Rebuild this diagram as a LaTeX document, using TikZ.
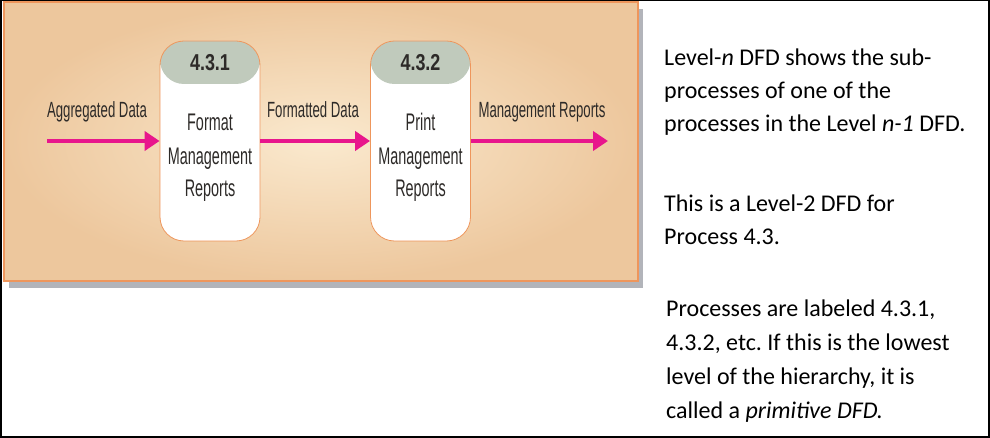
\documentclass[tikz,border=0pt]{standalone}
\usepackage{fontspec}
\usetikzlibrary{arrows.meta}
\newfontfamily\cond[FakeStretch=0.6]{Liberation Sans}
\newfontfamily\condhdr[FakeStretch=0.78]{Liberation Sans}
\newfontfamily\cbr{Carlito}
\frenchspacing
\definecolor{panelin}{RGB}{250,233,206}
\definecolor{panelout}{RGB}{237,199,157}
\definecolor{panelrim}{RGB}{238,150,92}
\definecolor{shadowgray}{RGB}{178,180,186}
\definecolor{hdr}{RGB}{192,202,188}
\definecolor{flowpink}{RGB}{232,22,140}
\definecolor{labelgray}{RGB}{45,42,40}
\tikzset{
  procbox/.style={draw=panelrim, line width=0.8pt, fill=white, rounded corners=24pt,
    minimum width=100pt, minimum height=200pt, inner sep=0pt,
    path picture={\fill[hdr] (path picture bounding box.north west) rectangle ([yshift=-43pt]path picture bounding box.north east);}},
  hdrtext/.style={font=\condhdr\bfseries\fontsize{23}{26}\selectfont, text=labelgray, anchor=base, inner sep=0pt},
  boxtext/.style={font=\cond\fontsize{24}{26}\selectfont, text=labelgray, anchor=base, inner sep=0pt},
  flowlabel/.style={font=\cond\fontsize{22}{26}\selectfont, text=labelgray, anchor=base, inner sep=0pt},
  flow/.style={draw=flowpink, line width=4pt, -{Triangle[length=15pt,width=19pt]}},
  note/.style={font=\cbr\fontsize{24}{30}\selectfont, text=black, anchor=base west, inner sep=0pt}
}
\begin{document}
\begin{tikzpicture}[x=1pt,y=-1pt]
\useasboundingbox (0,0) rectangle (990,438);
\fill[white] (0,0) rectangle (990,438);
% shadow and panel
\fill[shadowgray] (9,9) rectangle (643,288);
\shade[inner color=panelin, outer color=panelout] (4,2) rectangle (638,281);
\draw[panelrim, line width=1.5pt] (4,2) rectangle (638,281);
% processes
\node[procbox] (p1) at (210,141) {};
\node[procbox] (p2) at (420.5,141) {};
\node[hdrtext] (h1) at (210,71) {4.3.1};
\node[hdrtext] (h2) at (420.5,71) {4.3.2};
\node[boxtext] (f1) at (210,131) {Format};
\node[boxtext] (f2) at (210,165) {Management};
\node[boxtext] (f3) at (210,197) {Reports};
\node[boxtext] (g1) at (420.5,131) {Print};
\node[boxtext] (g2) at (420.5,165) {Management};
\node[boxtext] (g3) at (420.5,197) {Reports};
% flows
\coordinate (src) at (47,141);
\coordinate (dst) at (608,141);
\draw[flow] (src) -- (p1.west);
\draw[flow] (p1.east) -- (p2.west);
\draw[flow] (p2.east) -- (dst);
\node[flowlabel] (l1) at (97,118) {Aggregated Data};
\node[flowlabel] (l2) at (313,118) {Formatted Data};
\node[flowlabel] (l3) at (542,118) {Management Reports};
% notes
\node[note] (t1) at (664,66) {Level-\textit{n} DFD shows the sub-};
\node[note] (t2) at (664,99) {processes of one of the};
\node[note] (t3) at (664,132) {processes in the Level \textit{n-1} DFD.};
\node[note] (t4) at (664,212) {This is a Level-2 DFD for};
\node[note] (t5) at (664,245) {Process 4.3.};
\node[note] (t6) at (666,316) {Processes are labeled 4.3.1,};
\node[note] (t7) at (666,350) {4.3.2, etc. If this is the lowest};
\node[note] (t8) at (666,384) {level of the hierarchy, it is};
\node[note] (t9) at (666,418) {called a \textit{primitive DFD.}};
% frame
\draw[black, line width=1.5pt] (0.75,0.75) rectangle (989,437);
\end{tikzpicture}
\end{document}
